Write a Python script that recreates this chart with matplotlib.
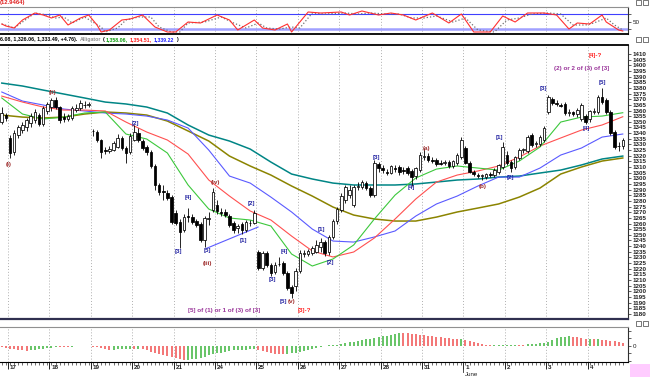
import numpy as np
import matplotlib
matplotlib.use("Agg")
import matplotlib.pyplot as plt
from matplotlib.patches import Rectangle
from matplotlib import transforms

plt.rcParams['font.family'] = ['Liberation Sans', 'DejaVu Sans']

# --- price bars (one row per trading day, 10 bars a day) ---
opens = [1350, 1356,
         1335.7, 1323, 1338, 1343, 1345, 1349, 1352, 1356, 1348, 1360,
         1363, 1369, 1363, 1354, 1352.5, 1353.5, 1360.5, 1362, 1365, 1365,
         1342, 1341, 1334, 1325, 1324.5, 1325, 1328, 1335.7, 1327, 1323,
         1334, 1340, 1333, 1327.7, 1323.3, 1311, 1294, 1289, 1287, 1283.4,
         1269, 1261.3, 1254.2, 1266.6, 1265.7, 1262, 1259.6, 1245.4, 1264, 1271.9,
         1276.4, 1270.2, 1270.2, 1266.6, 1260.4, 1256, 1259.6, 1254.2, 1260.4, 1260.4,
         1234.8, 1220.6, 1233.9, 1223.3, 1217.1, 1224.2, 1225, 1216.2, 1203.8, 1205,
         1218, 1233, 1233, 1234, 1235, 1239, 1243.6, 1234.8, 1248, 1262,
         1271.9, 1280.8, 1285, 1276.4, 1292.3, 1292.3, 1295.8, 1291.4, 1285.2, 1312.6,
         1309, 1306, 1305, 1309, 1310, 1307, 1309, 1306.4, 1302, 1307.3,
         1319, 1320, 1316.2, 1316.2, 1313.5, 1313.5, 1314.4, 1311, 1313.5, 1318.8,
         1326.8, 1313.5, 1305.6, 1303, 1302.5, 1301.1, 1304, 1303, 1306, 1310,
         1320.6, 1314.4, 1310, 1318, 1325, 1324, 1338.3, 1330, 1330, 1333.9,
         1358.7, 1370, 1367, 1365, 1365.8, 1358, 1358.7, 1357, 1352.5, 1355.1,
         1352.5, 1359, 1358.7, 1371.9, 1369.3, 1358.7, 1341, 1328.6, 1328.7]
highs = [1363, 1358,
         1338.3, 1343, 1347, 1350, 1353, 1358, 1361, 1358, 1364, 1367.5,
         1371, 1372, 1364, 1358, 1357, 1364, 1366, 1369, 1368.5, 1367.5,
         1343.5, 1342.7, 1335, 1327.7, 1328.5, 1333, 1339, 1337.4, 1328.6, 1340,
         1347, 1344.5, 1335, 1329.5, 1325, 1312.7, 1296, 1294, 1289.6, 1285,
         1272, 1264, 1268.4, 1273.7, 1268.4, 1264, 1261.3, 1266.6, 1270.2, 1291.4,
         1280.8, 1273.7, 1272.8, 1268.4, 1262.2, 1260, 1261.3, 1263.1, 1263.1, 1271.9,
         1236.5, 1235.7, 1235.7, 1225, 1225.9, 1230.4, 1226.8, 1218, 1205.6, 1221,
         1236.5, 1236.5, 1237.4, 1240, 1245.4, 1247.2, 1245.4, 1249.8, 1264, 1275,
         1287, 1294, 1294, 1294, 1296.8, 1298.5, 1297.5, 1293, 1316.2, 1314.4,
         1311.8, 1308, 1312, 1312, 1311.8, 1310, 1310.9, 1308.2, 1310, 1323,
         1326.8, 1322, 1318.8, 1318, 1316, 1316, 1316, 1316.5, 1322, 1336.5,
         1329, 1315.3, 1307.3, 1305, 1304, 1305, 1306, 1309, 1313, 1332,
         1324, 1316, 1320, 1326.8, 1327, 1338, 1340, 1333, 1338.3, 1346,
         1373.7, 1372, 1369.3, 1367, 1367.5, 1361, 1360, 1362, 1367, 1357,
         1360.4, 1362.2, 1374, 1379.9, 1371, 1360.4, 1342.7, 1332, 1336.08]
lows = [1348, 1351,
        1318, 1321, 1336, 1340, 1342, 1345, 1349, 1346, 1346, 1357,
        1360, 1361, 1349, 1350, 1350.5, 1351.5, 1358.5, 1360.5, 1362, 1363,
        1337.5, 1332, 1318, 1321.5, 1322.5, 1324, 1327, 1325, 1313.5, 1321.5,
        1333, 1332, 1325, 1320.6, 1309, 1289.6, 1285, 1281, 1281, 1259.6,
        1258.7, 1238.3, 1252.5, 1261.3, 1259.6, 1257, 1243.6, 1239.2, 1258.7, 1270.2,
        1268.4, 1266.6, 1265.8, 1256.9, 1251.6, 1252, 1250.7, 1252.5, 1257.8, 1259.6,
        1218.8, 1218.8, 1221.5, 1213.5, 1215.3, 1222.4, 1214.4, 1201.2, 1194.1, 1200,
        1216, 1230.4, 1231.3, 1232, 1234, 1235, 1231.3, 1232, 1246.3, 1260,
        1270.2, 1278, 1283, 1274.6, 1289.6, 1290.5, 1289.6, 1283.4, 1283.4, 1306,
        1305, 1303, 1303.8, 1306, 1303, 1304, 1302.9, 1293.2, 1299.4, 1305.6,
        1316, 1314.4, 1313.5, 1311, 1311.8, 1312, 1309, 1309.5, 1312, 1317.5,
        1312.6, 1305, 1302, 1300, 1298.5, 1299.5, 1301, 1301, 1304, 1308,
        1312, 1305.6, 1308, 1316, 1322, 1322, 1328, 1327.7, 1329, 1332,
        1357, 1365, 1364, 1363, 1356, 1355, 1355, 1354, 1350.5, 1348,
        1350, 1356.9, 1357, 1366, 1357, 1338, 1326, 1324, 1326.06]
closes = [1358, 1353,
          1322.4, 1340, 1345, 1347, 1351.5, 1355, 1358.5, 1348, 1362, 1366,
          1369, 1363, 1351.5, 1352.5, 1355, 1362, 1362, 1366.5, 1364.5, 1366,
          1342.3, 1334, 1323.3, 1324, 1326, 1331, 1335.7, 1327, 1322.4, 1337.4,
          1341, 1334, 1327, 1323.3, 1311, 1294, 1288, 1288, 1282.6, 1261.3,
          1260.4, 1252.5, 1265.7, 1265.7, 1261.3, 1258.7, 1245.4, 1264.9, 1264.9, 1287.9,
          1271.1, 1269.3, 1267.5, 1258.7, 1254.2, 1257.8, 1254.2, 1261.3, 1260.8, 1269.3,
          1220.6, 1233.9, 1223.3, 1216.2, 1223.3, 1224.6, 1216.2, 1202.9, 1198.5, 1218,
          1234, 1234, 1235.7, 1238.3, 1241, 1243.6, 1233.9, 1248, 1262, 1272.8,
          1284, 1292.3, 1290, 1292.3, 1293.2, 1296.7, 1291.4, 1285.2, 1313.5, 1309.1,
          1307.3, 1305, 1310.9, 1308.5, 1305.6, 1306.5, 1304.7, 1301.1, 1309.1, 1320.6,
          1320, 1316.2, 1315.3, 1312.6, 1313, 1314.4, 1310.9, 1315.3, 1320.6, 1333.9,
          1313.5, 1305.6, 1303.8, 1302, 1302.9, 1303.8, 1303, 1307.3, 1311.8, 1327.7,
          1313.5, 1309, 1319, 1325, 1325.9, 1336.5, 1329.5, 1331, 1336.5, 1344.5,
          1371.9, 1366.6, 1366, 1364, 1357.8, 1358.7, 1357, 1360.4, 1364.9, 1349.8,
          1359.6, 1360, 1372, 1367.5, 1358.7, 1340.1, 1327.7, 1329, 1333.49]

# moving averages, read every 5 bars
ma_bars = list(range(0, 151, 5))
teal_ma = [1384.3, 1381.7, 1378.1, 1374.6, 1371.1, 1367.5, 1365.8, 1363.1, 1357.8, 1347.2,
           1338.3, 1333.0, 1325.9, 1314.4, 1303.8, 1299.4, 1295.8, 1294.1, 1294.1, 1294.1,
           1295.0, 1296.7, 1298.5, 1299.4, 1301.1, 1302.0, 1304.7, 1307.3, 1311.8, 1317.1, 1319.7]
olive_ma = [1356.0, 1354.2, 1353.4, 1354.2, 1356.9, 1358.7, 1357.8, 1356.0, 1350.7, 1341.9,
            1333.0, 1319.7, 1310.9, 1302.9, 1293.2, 1284.3, 1274.6, 1267.5, 1264.0, 1262.2,
            1262.2, 1265.7, 1270.2, 1273.7, 1277.3, 1283.4, 1291.4, 1303.8, 1310.0, 1315.3, 1318.0]
jaw = [1376.4, 1368.4, 1364.9, 1361.3, 1359.6, 1357.8, 1356.9, 1355.1, 1351.6, 1344.5,
       1325.0, 1302.0, 1295.8, 1283.4, 1270.2, 1255.1, 1244.5, 1243.6, 1248.1, 1253.4,
       1266.6, 1277.3, 1284.3, 1293.2, 1301.1, 1301.1, 1309.1, 1320.6, 1326.8, 1336.5, 1339.22]
teeth = [1372.8, 1367.5, 1363.1, 1360.4, 1360.4, 1359.6, 1349.8, 1341.0, 1333.9, 1321.5,
         1298.5, 1284.3, 1271.1, 1263.1, 1248.9, 1235.7, 1230.4, 1234.8, 1247.2, 1264.0,
         1281.7, 1296.7, 1302.9, 1306.5, 1310.9, 1318.8, 1328.6, 1335.7, 1342.7, 1347.2, 1354.51]
lips = [1371.1, 1356.9, 1352.5, 1354.2, 1357.8, 1358.7, 1339.2, 1334.8, 1322.4, 1294.1,
        1272.8, 1264.9, 1263.1, 1257.8, 1233.0, 1222.4, 1228.6, 1241.0, 1264.0, 1285.2,
        1300.3, 1308.2, 1310.9, 1309.1, 1307.3, 1315.3, 1327.7, 1349.8, 1354.2, 1355.1, 1358.06]

trend_bars = [49.5, 61.9]
trend_px = [1238.1, 1256.9]

# stochastic
k_bars = [0, 1, 3, 5, 8, 10, 12, 14, 16, 19, 21, 23, 24, 26, 29, 31, 34, 37, 40, 42, 45, 48, 52, 55,
          57, 61, 63, 66, 69, 70, 74, 77, 82, 84, 87, 91, 94, 97, 100, 104, 108, 111, 114, 118,
          121, 124, 127, 131, 134, 137, 139, 142, 145, 146, 149, 150]
k_vals = [40, 32, 24, 56, 84, 76, 64, 76, 36, 64, 76, 36, 8, 16, 56, 60, 76, 28, 8, 8, 48, 44, 76, 56,
          16, 56, 24, 16, 40, 8, 88, 84, 88, 76, 92, 76, 84, 76, 56, 84, 44, 80, 8, 8,
          72, 48, 84, 84, 76, 20, 44, 40, 76, 48, 16, 12]
d_bars = [0, 3, 8, 11, 13, 15, 17, 20, 24, 25, 28, 30, 33, 36, 38, 41, 43, 45, 49, 53, 56, 59, 62, 64,
          67, 70, 72, 75, 78, 83, 86, 89, 93, 96, 99, 102, 105, 109, 112, 115, 119, 122, 125, 128,
          132, 135, 138, 141, 143, 146, 148, 150]
d_vals = [40, 24, 84, 76, 64, 68, 44, 68, 28, 8, 24, 56, 68, 68, 28, 8, 8, 44, 48, 68, 44, 24, 44, 24,
          20, 28, 24, 84, 80, 84, 80, 84, 80, 80, 64, 64, 72, 48, 64, 16, 8, 56, 64, 80,
          84, 80, 36, 36, 44, 64, 36, 16]

# oscillator histogram
hist = [-1, -2, -3, -3.5, -4, -4.5, -5, -4.5, -4, -3.5,
        -3, -2.5, -2, -1.5, -1, -1, -1, -0.8, -0.6, -0.5,
        -0.4, -0.3, -1, -1.5, -2.5, -3.5, -4, -4, -3.5, -3,
        -3, -3, -3, -3, -3.5, -4, -6, -7, -8, -9,
        -10, -11, -12, -13, -14, -14, -13.5, -13, -12, -11,
        -9, -8, -7, -7, -6, -5, -4.5, -4, -4, -4,
        -3.5, -3, -4, -5, -6, -7, -8, -8.5, -8.5, -8,
        -7.5, -7, -6, -5, -4, -3, -2, -1, -0.5, 0.3,
        0.6, 1, 2, 3, 3.5, 4, 5, 6, 6.5, 7,
        8, 9, 9.5, 10, 11, 12, 13, 13, 12.5, 12,
        11.5, 11, 10.5, 10, 9.5, 9, 8.5, 8, 7.5, 7,
        7, 6.5, 5.5, 4.5, 3.5, 2.5, 1.5, 1, 0.5, 0.3,
        0.3, 0.6, 1, 1, 1.2, 1, 1, 1.5, 2, 2,
        2.5, 3, 4, 6, 7.5, 8.5, 9, 9.5, 9, 8.5,
        8, 7, 7, 6.5, 6.5, 6, 5.5, 5, 4.5, 4,
        3]
hist_col = ("rrrrrrrggg" "ggggrrrggg" "ggrrrrrggg" "ggrgrrrrrr" "rrrrrggggg"
            "gggggggggg" "ggrrrrrrrg" "gggggggggg" "gggggggggg" "gggggggrrr"
            "rrrrrrrrrr" "rgrrrrrrrg" "gggggrrggg" "ggggggggrr" "rrgrgrrrrr" "r")

days = ["17", "18", "19", "20", "21", "24", "25", "26", "27", "28", "31", "1", "2", "3", "4"]

labels = [("(i)", 1.7, 1311.8, "#a03030"), ("(ii)", 12.4, 1376.4, "#a03030"),
          ("[2]", 32.2, 1348.1, "#2020a0"), ("[3]", 42.6, 1234.8, "#2020a0"),
          ("[4]", 45.0, 1282.6, "#2020a0"), ("[5]", 49.6, 1235.7, "#2020a0"),
          ("(iii)", 49.6, 1225.0, "#a03030"), ("(iv)", 51.7, 1296.7, "#a03030"),
          ("[1]", 58.3, 1245.4, "#2020a0"), ("[2]", 60.4, 1278.1, "#2020a0"),
          ("[3]", 65.3, 1210.9, "#2020a0"), ("[4]", 68.2, 1234.8, "#2020a0"),
          ("[5]", 67.9, 1191.4, "#2020a0"), ("(v)", 70.1, 1191.4, "#a03030"),
          ("[1]", 77.3, 1255.1, "#2020a0"), ("[2]", 79.3, 1225.9, "#2020a0"),
          ("[3]", 90.6, 1318.8, "#2020a0"), ("[4]", 98.8, 1292.3, "#2020a0"),
          ("(a)", 102.7, 1326.8, "#a03030"), ("(b)", 116.2, 1293.2, "#a03030"),
          ("[1]", 120.1, 1336.5, "#2020a0"), ("[2]", 122.8, 1300.3, "#2020a0"),
          ("[3]", 130.7, 1379.9, "#2020a0"), ("[4]", 141.1, 1344.5, "#2020a0"),
          ("[5]", 145.0, 1385.2, "#2020a0"), ("[4]-?", 143.3, 1409.1, "#ff2020"),
          ("(2) or 2 of (3) of [3]", 140.1, 1397.6, "#993399"),
          ("[5] of (1) or 1 of (3) of [3]", 53.7, 1182.6, "#993399"),
          ("[3]-?", 73.2, 1182.6, "#ff2020")]

header = [('6.08, 1,326.06, 1,333.49, +4.76).', 'black'), ('Alligator', '#909090'),
          ('(', 'black'), ('1,358.06,', '#10a010'), ('1,354.51,', '#ff2020'),
          ('1,339.22', '#2020ff'), (')', 'black')]

W, H = 650, 377
fig = plt.figure(figsize=(6.5, 3.77), dpi=100)


def box(x0, y0, x1, y1):
    return [x0 / W, 1 - y1 / H, (x1 - x0) / W, (y1 - y0) / H]


XL = (-0.43, 151.26)
bounds = [1.5 + 10 * k for k in range(len(days))]
grid_kw = dict(color='#b0b0b0', lw=0.7, ls=(0, (1, 2)), zorder=0)

ax_st = fig.add_axes(box(0, 7, 628, 34))
ax = fig.add_axes(box(0, 45, 628, 319))
ax_h = fig.add_axes(box(0, 327, 628, 362))

for a in (ax_st, ax, ax_h):
    a.set_xlim(*XL)
    a.spines['left'].set_visible(False)
    a.yaxis.tick_right()
    for b in bounds:
        a.axvline(b, **grid_kw)
    a.tick_params(axis='y', labelsize=4.5, length=2, width=0.5, pad=1.5, colors='#202020')
    a.spines['right'].set_color('#303030')

# stochastic panel
ax_st.set_ylim(0, 108)
ax_st.axhline(80, color='#4040ff', lw=0.8)
ax_st.axhline(20, color='#a0a0ff', lw=1.8)
ax_st.plot(d_bars, d_vals, color='#707070', ls=':', lw=0.9)
ax_st.plot(k_bars, k_vals, color='#ff3030', lw=0.8)
ax_st.set_xticks([])
ax_st.set_yticks([20, 50, 80])
ax_st.set_yticklabels(['', '50', ''])
ax_st.spines['top'].set_color('#909090')
ax_st.spines['bottom'].set_linewidth(1.3)

# main panel
x = np.arange(len(closes))
o, h, l, c = map(np.array, (opens, highs, lows, closes))
up = c >= o
ax.plot(ma_bars, teal_ma, color='#008585', lw=1.1, zorder=2)
ax.plot(ma_bars, olive_ma, color='#8b8400', lw=1.1, zorder=2)
ax.plot(ma_bars, jaw, color='#5a5aff', lw=0.8, zorder=2)
ax.plot(ma_bars, teeth, color='#ff5050', lw=0.8, zorder=2)
ax.plot(ma_bars, lips, color='#3cc83c', lw=0.8, zorder=2)
ax.plot(trend_bars, trend_px, color='#5a5aff', lw=0.8, zorder=2)
ax.vlines(x, l, h, color='black', lw=0.6, zorder=3)
ax.bar(x[up], c[up] - o[up], bottom=o[up], width=0.62, facecolor='white',
       edgecolor='black', lw=0.55, zorder=4)
ax.bar(x[~up], o[~up] - c[~up], bottom=c[~up], width=0.62, facecolor='black',
       edgecolor='black', lw=0.55, zorder=4)
for s, bx, py, col in labels:
    ax.text(bx, py, s, color=col, fontsize=4.5, fontweight='bold',
            ha='center', va='center', zorder=5)
ax.set_ylim(1175.5, 1418)
ax.set_yticks(list(range(1180, 1411, 5)))
for t in ax.get_yticklabels():
    t.set_fontweight('bold')
ax.set_xticks([])
ax.spines['top'].set_linewidth(1.3)
ax.spines['bottom'].set_color('#303050')
ax.spines['bottom'].set_linewidth(1.6)

# histogram panel
ax_h.vlines(x, 0, hist, colors=['#f05050' if k == 'r' else '#3cb43c' for k in hist_col], lw=1.1)
ax_h.set_ylim(-16.3, 18.7)
ax_h.set_yticks([-15, -7.5, 0, 7.5, 15])
ax_h.set_yticklabels(['', '', '0', '', ''])
ax_h.spines['top'].set_color('#909090')
ax_h.set_xticks(bounds)
ax_h.set_xticks(x, minor=True)
ax_h.set_xticklabels([])
ax_h.tick_params(axis='x', which='major', length=5, width=0.6, direction='out')
ax_h.tick_params(axis='x', which='minor', length=2, width=0.4, direction='out')
trans = transforms.blended_transform_factory(ax_h.transData, fig.transFigure)
for b, d in zip(bounds, days):
    ax_h.text(b + 0.45, 1 - 367.5 / H, d, transform=trans, fontsize=4.5,
              fontweight='bold', ha='left', va='center', color='#202020')
ax_h.plot([bounds[11], bounds[11]], [1 - 362 / H, 1 - 372 / H], transform=trans,
          color='#303030', lw=0.6, clip_on=False)
ax_h.text(bounds[11] + 0.3, 1 - 374 / H, 'June', transform=trans, fontsize=4.5,
          ha='left', va='center', color='#202020')

# header texts, placed one after another
fig.text(0, 1 - 2.5 / H, '(12.9464)', color='#e02020', fontsize=4.2,
         fontweight='bold', ha='left', va='center')
renderer = fig.canvas.get_renderer()
px = 0.0
for s, col in header:
    t = fig.text(px / W, 1 - 40 / H, s, color=col, fontsize=3.8, fontweight='bold',
                 ha='left', va='center')
    bb = t.get_window_extent(renderer)
    px = bb.x1 + (1.0 if s in ('(',) else 2.0)

# little panel buttons and the corner box
for yb in (0, 37, 321):
    for xb in (636, 643):
        fig.add_artist(Rectangle((xb / W, 1 - (yb + 5) / H), 5 / W, 5 / H,
                                 transform=fig.transFigure, facecolor='white',
                                 edgecolor='#404040', lw=0.5))
fig.add_artist(Rectangle((630 / W, 0), 20 / W, 13 / H, transform=fig.transFigure,
                         facecolor='#ffccff', edgecolor='none'))

fig.savefig('out.png', dpi=100)
